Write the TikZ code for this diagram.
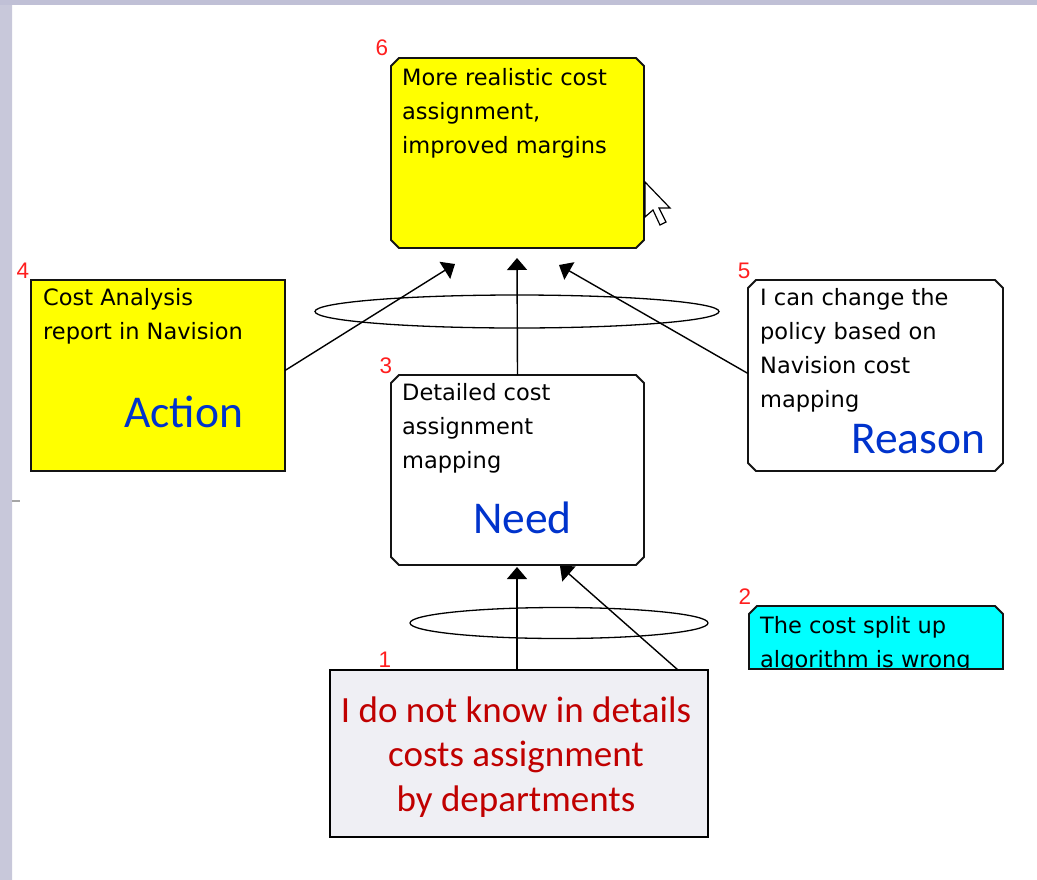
\documentclass[tikz,border=0pt]{standalone}
\usepackage{fontspec}
\usetikzlibrary{arrows.meta,calc,shapes.geometric}
\newfontfamily\boxfont{DejaVu Sans}
\newfontfamily\calfont{Carlito}
\newfontfamily\numfont{Liberation Sans}
\definecolor{bandtop}{RGB}{192,192,214}
\definecolor{bandside}{RGB}{200,200,218}
\definecolor{bandmid}{RGB}{220,220,222}
\definecolor{boxyellow}{RGB}{255,255,0}
\definecolor{boxcyan}{RGB}{0,255,255}
\definecolor{probfill}{RGB}{239,239,244}
\definecolor{labelblue}{RGB}{0,51,204}
\definecolor{probred}{RGB}{192,0,0}
\definecolor{numred}{RGB}{255,30,30}
\definecolor{edge}{RGB}{20,20,20}
\newcommand\chamferbox[2]{%
  \filldraw[boxline,fill=#2] ([xshift=8pt]#1.north west) -- ([xshift=-8pt]#1.north east)
    -- ([yshift=-8pt]#1.north east) -- ([yshift=8pt]#1.south east)
    -- ([xshift=-8pt]#1.south east) -- ([xshift=8pt]#1.south west)
    -- ([yshift=8pt]#1.south west) -- ([yshift=-8pt]#1.north west) -- cycle;}
\begin{document}
\begin{tikzpicture}[x=1pt,y=-1pt,
  boxline/.style={draw=edge,line width=1.8pt},
  holder/.style={draw=none,inner sep=0pt,outer sep=0pt},
  boxtext/.style={inner sep=0pt,anchor=base west,align=left,font=\boxfont\fontsize{22.5}{34}\selectfont},
  kindtext/.style={inner sep=0pt,anchor=base west,text=labelblue,font=\calfont\fontsize{45.5}{50}\selectfont},
  numtext/.style={inner sep=0pt,text=numred,font=\numfont\fontsize{22.5}{24}\selectfont},
  conn/.style={draw=black,line width=1.4pt,-{Triangle[length=12pt,width=20pt]}},
  loop/.style={draw=black,line width=1.3pt,ellipse,inner sep=0pt}]
\useasboundingbox (0,0) rectangle (1037,879);
\fill[white] (0,0) rectangle (1037,879);
% slide frame
\shade[top color=bandside,middle color=bandmid,bottom color=bandside] (0,0) rectangle (12,879);
\fill[bandtop] (0,0) rectangle (1037,5);
\draw[gray!70,line width=2pt] (12,501) -- (20,501);
% box holders
\node[holder,minimum width=253pt,minimum height=190pt] (n6) at (517.5,153) {};
\node[holder,minimum width=254pt,minimum height=191pt] (n4) at (158,375.5) {};
\node[holder,minimum width=255pt,minimum height=191pt] (n5) at (875.5,375.5) {};
\node[holder,minimum width=253pt,minimum height=190pt] (n3) at (517.5,470) {};
\node[holder,minimum width=254pt,minimum height=63pt] (n2) at (876,637.5) {};
% ellipses
\node[loop,minimum width=404pt,minimum height=33pt] (e6) at (517,311.5) {};
\node[loop,minimum width=298pt,minimum height=31pt] (e3) at (559,623) {};
% boxes
\chamferbox{n6}{boxyellow}
\filldraw[fill=boxyellow,draw=edge,line width=2.2pt] (n4.north west) rectangle (n4.south east);
\chamferbox{n5}{white}
\chamferbox{n3}{white}
\filldraw[boxline,fill=boxcyan] (n2.south west) -- ([yshift=-8pt]n2.north west) -- ([xshift=8pt]n2.north west)
  -- ([xshift=-8pt]n2.north east) -- ([yshift=-8pt]n2.north east) -- (n2.south east) -- cycle;
% numbers
\node[numtext] (l6) at (382,48) {6};
\node[numtext] (l4) at (23,271) {4};
\node[numtext] (l5) at (744,271) {5};
\node[numtext] (l3) at (386,366) {3};
\node[numtext] (l2) at (745,597) {2};
\node[numtext] (l1) at (385,660) {1};
% problem box
\node[draw=black,line width=2.2pt,fill=probfill,minimum width=378pt,minimum height=167pt,inner sep=0pt] (n1) at (519,753.5) {};
% texts (base anchor = last line)
\node[boxtext] (t6) at (402,153) {More realistic cost\\assignment,\\improved margins};
\node[boxtext] (t4) at (43,339) {Cost Analysis\\report in Navision};
\node[boxtext] (t5) at (760,407) {I can change the\\policy based on\\Navision cost\\mapping};
\node[boxtext] (t3) at (402,468) {Detailed cost\\assignment\\mapping};
\begin{scope}
\clip (749,600) rectangle (1003,667);
\node[boxtext] (t2) at (760,667) {The cost split up\\algorithm is wrong};
\end{scope}
\draw[edge,line width=1.8pt] (n2.south west) -- (n2.south east);
\node[kindtext] (k4) at (124,427) {Action};
\node[kindtext] (k5) at (851,453) {Reason};
\node[kindtext] (k3) at (473,533) {Need};
\node[inner sep=0pt,anchor=base,align=center,text=probred,font=\calfont\fontsize{37}{44.5}\selectfont] (t1) at (516,811) {I do not know in details\\costs assignment\\by departments};
% connector ends
\coordinate (a6l) at (455,264);
\coordinate (a6m) at (517,258);
\coordinate (a6r) at (559,265);
\coordinate (a3m) at (517,567);
\coordinate (a3r) at (560,566);
\coordinate (s1m) at (517,670);
\coordinate (s1r) at (678,670);
\draw[conn] ([yshift=5pt]n4.east) -- (a6l);
\draw[conn] (n3.north) -- (a6m);
\draw[conn] ([yshift=2pt]n5.west) -- (a6r);
\draw[conn] (s1m) -- (a3m);
\draw[conn] (s1r) -- (a3r);
% mouse cursor
\filldraw[fill=white,draw=black,line width=1.2pt,line join=miter]
  (645,182) -- ++(0,35) -- ++(8,-7) -- ++(7,15) -- ++(6,-3) -- ++(-7,-14) -- ++(11,0) -- cycle;
\end{tikzpicture}
\end{document}
